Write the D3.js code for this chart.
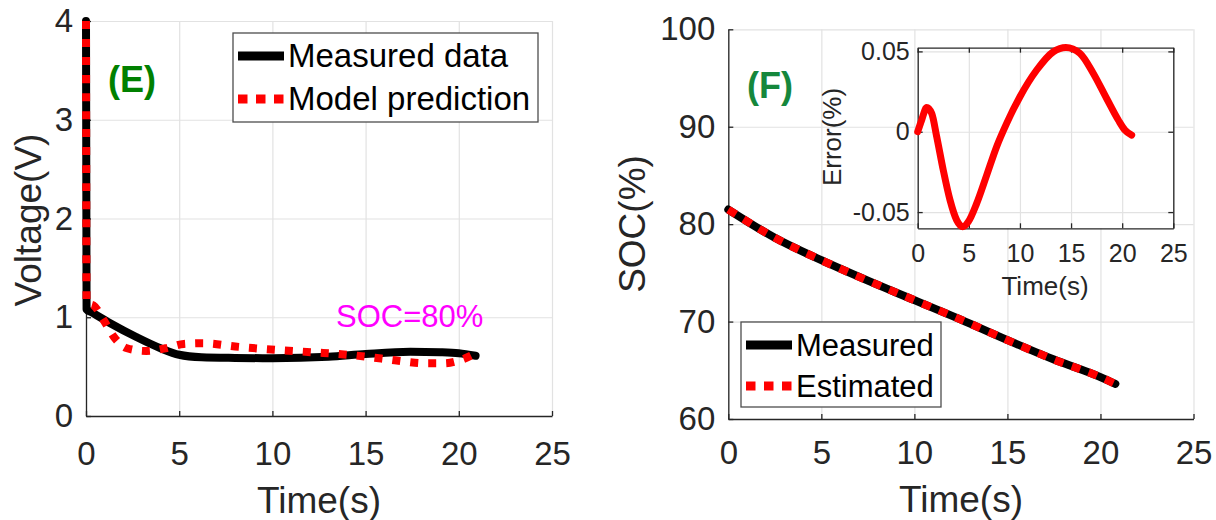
<!DOCTYPE html>
<html>
<head>
<meta charset="utf-8">
<script src="https://cdn.jsdelivr.net/npm/d3@7"></script>
<style>
  body { margin: 0; background: #fff; }
  svg { display: block; }
  text { font-family: "Liberation Sans", Arial, Helvetica, sans-serif; }
</style>
</head>
<body>
<div id="viz"></div>
<script>
// ---- data ----
const timeTicks = [0, 5, 10, 15, 20, 25];
const voltTicks = [0, 1, 2, 3, 4];
const socTicks = [60, 70, 80, 90, 100];
const errTicks = [-0.05, 0, 0.05];
const errTickLabels = ["-0.05", "0", "0.05"];

// panel (E): voltage
const measTime = [0, 0.03, 0.3, 1.3, 2.7, 4.0, 5.0, 6.2, 8, 10, 13, 15, 17.4, 19, 20, 20.9];
const measVolt = [4.0, 1.08, 1.05, 0.94, 0.80, 0.686, 0.62, 0.595, 0.588, 0.585, 0.60, 0.628, 0.65, 0.645, 0.635, 0.61];
const predTime = [0, 0.03, 0.4, 0.95, 1.5, 2.2, 3.24, 4.27, 5.25, 6.24, 8.2, 10.18, 12.19, 14.18, 16.18, 17.17, 18.15, 19.2, 20.1, 20.84];
const predVolt = [4.0, 1.14, 1.12, 0.97, 0.80, 0.686, 0.658, 0.686, 0.73, 0.737, 0.70, 0.67, 0.645, 0.618, 0.574, 0.55, 0.534, 0.534, 0.567, 0.628];

// panel (F): SOC
const socTime = [0, 2.5, 5, 7.5, 10, 12.5, 15, 17.5, 20, 20.8];
const socMeasured = [81.5, 78.6, 76.3, 74.2, 72.2, 70.2, 68.1, 66.1, 64.3, 63.6];
const socEstimated = [81.5, 78.6, 76.3, 74.2, 72.2, 70.2, 68.1, 66.1, 64.3, 63.6];

// inset: SOC error
const errTime = [0, 0.39, 0.88, 1.37, 1.86, 2.5, 3.16, 3.81, 4.4, 4.95, 5.77, 6.75, 7.72, 8.7, 10.0, 11.64, 13.27, 14.5, 15.87, 17.18, 18.48, 19.62, 20.27, 20.93];
const errValue = [0, 0.0073, 0.0151, 0.0114, -0.0031, -0.0239, -0.0425, -0.055, -0.0591, -0.056, -0.0446, -0.027, -0.0093, 0.0052, 0.0218, 0.0384, 0.0498, 0.0525, 0.0488, 0.0363, 0.0207, 0.0073, 0.001, -0.0021];

const axisColor = "#262626";
const gridColor = "#e2e2e2";

const svg = d3.select("#viz")
  .append("svg")
  .attr("width", 1216)
  .attr("height", 520);

function styleAxis(g, size, color) {
  g.attr("font-size", size)
   .attr("font-family", null)
   .attr("color", color || axisColor);
  g.select(".domain").attr("stroke-width", 1.3);
  g.selectAll(".tick line").attr("stroke-width", 1.3);
}

// grid + axes of one panel
function drawFrame(x, y, opt) {
  const [x0, x1] = x.range();
  const [y0, y1] = y.range();
  const g = svg.append("g");

  if (opt.background)
    g.append("rect").attr("x", x0).attr("y", y1).attr("width", x1 - x0).attr("height", y0 - y1).attr("fill", "#fff");

  // grid
  g.append("g")
    .attr("transform", `translate(0,${y0})`)
    .call(d3.axisBottom(x).tickValues(opt.xTicks).tickSize(-(y0 - y1)).tickFormat(""))
    .call(a => a.select(".domain").remove())
    .call(a => a.selectAll("line").attr("stroke", gridColor).attr("stroke-width", 1.2));
  g.append("g")
    .attr("transform", `translate(${x0},0)`)
    .call(d3.axisLeft(y).tickValues(opt.yTicks).tickSize(-(x1 - x0)).tickFormat(""))
    .call(a => a.select(".domain").remove())
    .call(a => a.selectAll("line").attr("stroke", gridColor).attr("stroke-width", 1.2));

  // axes, ticks pointing inwards
  g.append("g")
    .attr("transform", `translate(0,${y0})`)
    .call(d3.axisBottom(x).tickValues(opt.xTicks).tickSizeInner(-5).tickSizeOuter(0).tickPadding(opt.xPad))
    .call(a => styleAxis(a, opt.fontSize));
  g.append("g")
    .attr("transform", `translate(${x0},0)`)
    .call(d3.axisLeft(y).tickValues(opt.yTicks).tickSizeInner(-5).tickSizeOuter(0).tickPadding(opt.yPad)
      .tickFormat(opt.yFormat || d3.format("d")))
    .call(a => styleAxis(a, opt.fontSize));

  if (opt.box) {
    g.append("g")
      .attr("transform", `translate(0,${y1})`)
      .call(d3.axisTop(x).tickValues(opt.xTicks).tickSizeInner(-5).tickSizeOuter(0).tickFormat(""))
      .call(a => styleAxis(a, opt.fontSize));
    g.append("g")
      .attr("transform", `translate(${x1},0)`)
      .call(d3.axisRight(y).tickValues(opt.yTicks).tickSizeInner(-5).tickSizeOuter(0).tickFormat(""))
      .call(a => styleAxis(a, opt.fontSize));
  }
  return g;
}

function drawLine(xs, ys, x, y, color, width, dash) {
  const pts = xs.map((t, i) => [t, ys[i]]);
  const line = d3.line()
    .x(d => x(d[0]))
    .y(d => y(d[1]))
    .curve(d3.curveMonotoneX);
  svg.append("path")
    .datum(pts)
    .attr("d", line)
    .attr("fill", "none")
    .attr("stroke", color)
    .attr("stroke-width", width)
    .attr("stroke-linejoin", "round")
    .attr("stroke-linecap", dash ? "butt" : "round")
    .attr("stroke-dasharray", dash || null);
}

function label(txt, x, y, size, opt) {
  opt = opt || {};
  const t = svg.append("text")
    .attr("transform", `translate(${x},${y})` + (opt.rotate ? " rotate(-90)" : ""))
    .attr("text-anchor", opt.anchor || "middle")
    .attr("font-size", size)
    .attr("fill", opt.color || axisColor)
    .text(txt);
  if (opt.bold) t.attr("font-weight", "bold");
  return t;
}

function legend(x, y, w, h, entries, size, rowGap) {
  svg.append("rect")
    .attr("x", x).attr("y", y).attr("width", w).attr("height", h)
    .attr("fill", "#fff").attr("stroke", "#4d4d4d").attr("stroke-width", 1.3);
  entries.forEach((e, i) => {
    const cy = y + 23 + i * rowGap;
    svg.append("line")
      .attr("x1", x + 5).attr("x2", x + 51).attr("y1", cy).attr("y2", cy)
      .attr("stroke", e.color).attr("stroke-width", 9)
      .attr("stroke-dasharray", e.dash || null);
    svg.append("text")
      .attr("x", x + 55).attr("y", cy + 11)
      .attr("font-size", size).attr("fill", "#000")
      .text(e.name);
  });
}

// ---------- panel (E) ----------
const xE = d3.scaleLinear().domain([0, 25]).range([86, 552]);
const yE = d3.scaleLinear().domain([0, 4]).range([416, 21]);
drawFrame(xE, yE, { xTicks: timeTicks, yTicks: voltTicks, fontSize: 33, xPad: 26, yPad: 13 });
drawLine(measTime, measVolt, xE, yE, "#000", 8);
drawLine(predTime, predVolt, xE, yE, "#ff0000", 8, "8,10");
legend(233, 33, 305, 89, [
  { name: "Measured data", color: "#000" },
  { name: "Model prediction", color: "#ff0000", dash: "9.5,8.5" }
], 33, 43);
label("Time(s)", 319, 513, 37);
label("Voltage(V)", 41, 220, 37, { rotate: true });
label("(E)", 132, 92, 36, { bold: true, color: "#008000" });
label("SOC=80%", 336, 327, 31, { anchor: "start", color: "#ff00ff" });

// ---------- panel (F) ----------
const xF = d3.scaleLinear().domain([0, 25]).range([728.3, 1193.5]);
const yF = d3.scaleLinear().domain([60, 100]).range([419, 29.3]);
drawFrame(xF, yF, { xTicks: timeTicks, yTicks: socTicks, fontSize: 33, xPad: 22, yPad: 13 });
drawLine(socTime, socMeasured, xF, yF, "#000", 8);
drawLine(socTime, socEstimated, xF, yF, "#ff0000", 8, "9,9");
legend(741, 322, 200, 85, [
  { name: "Measured", color: "#000" },
  { name: "Estimated", color: "#ff0000", dash: "9.5,8.5" }
], 31, 41);
label("Time(s)", 961, 512, 37);
label("SOC(%)", 645, 224, 37, { rotate: true });
label("(F)", 770, 98, 36, { bold: true, color: "#15873c" });

// ---------- inset ----------
const xI = d3.scaleLinear().domain([0, 25]).range([917.7, 1173.3]);
const yI = d3.scaleLinear().domain([-0.0601, 0.0523]).range([228.3, 47.7]);
drawFrame(xI, yI, {
  xTicks: timeTicks, yTicks: errTicks, fontSize: 25, xPad: 16, yPad: 8, box: true, background: true,
  yFormat: d => errTickLabels[errTicks.indexOf(d)]
});
drawLine(errTime, errValue, xI, yI, "#ff0000", 7);
label("Time(s)", 1045, 295, 26);
label("Error(%)", 841, 137, 26, { rotate: true });
</script>
</body>
</html>
